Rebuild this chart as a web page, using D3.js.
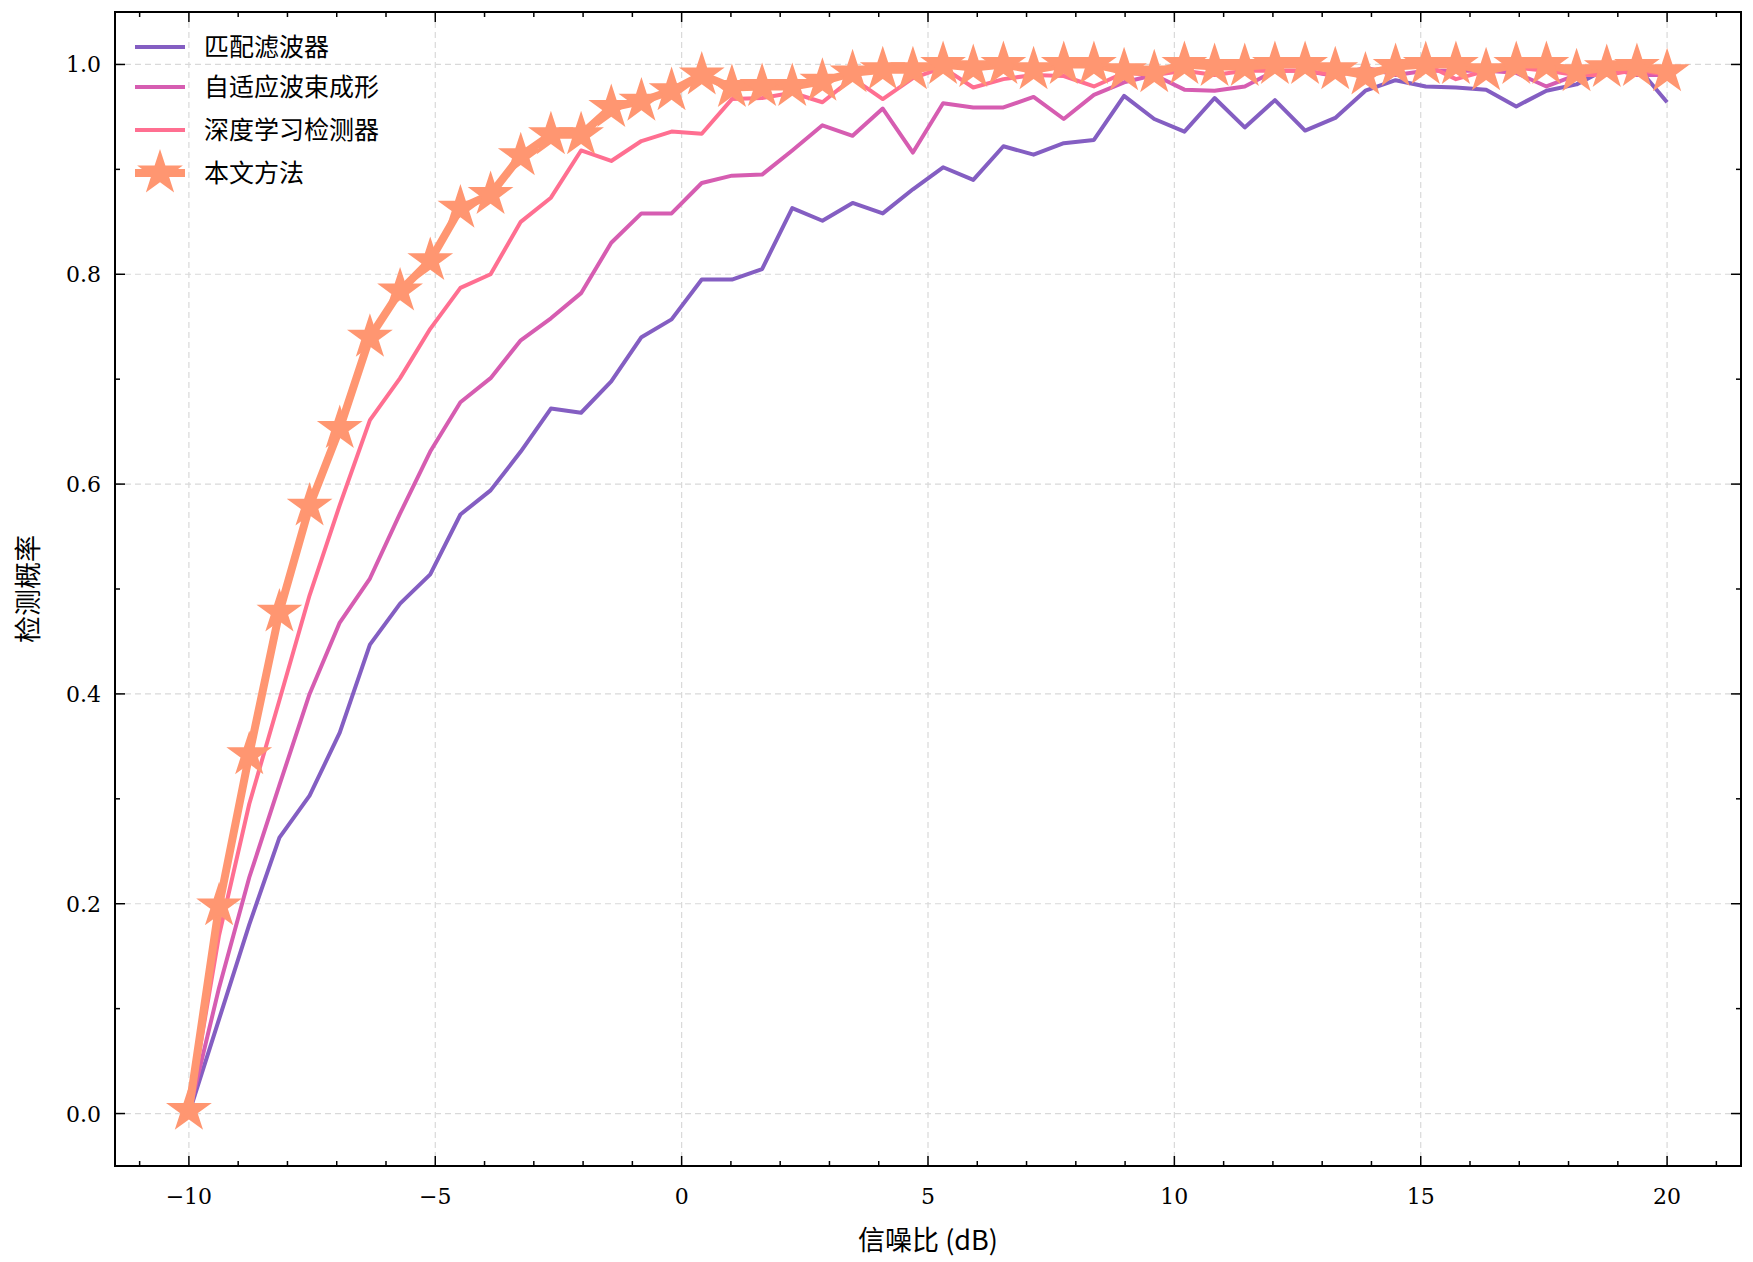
<!DOCTYPE html>
<html><head><meta charset="utf-8">
<script src="https://cdn.jsdelivr.net/npm/d3@7"></script>
<style>body{margin:0;background:#fff}</style></head>
<body><svg id="c" width="1753" height="1262"></svg>
<script>
const snr = d3.range(50).map(i => -10 + i * 30 / 49);
const seriesNames = ["匹配滤波器", "自适应波束成形", "深度学习检测器", "本文方法"];
const matched = [0,0.09,0.18,0.263,0.303,0.363,0.447,0.486,0.514,0.571,0.594,0.631,0.672,0.668,0.698,0.740,0.757,0.795,0.795,0.805,0.863,0.851,0.868,0.858,0.881,0.902,0.890,0.922,0.914,0.925,0.928,0.970,0.948,0.936,0.968,0.940,0.966,0.937,0.949,0.975,0.985,0.979,0.978,0.976,0.960,0.975,0.981,0.996,0.998,0.964];
const beam = [0,0.12,0.225,0.313,0.400,0.468,0.510,0.572,0.631,0.678,0.701,0.737,0.758,0.782,0.830,0.858,0.858,0.887,0.894,0.895,0.918,0.942,0.932,0.958,0.916,0.963,0.959,0.959,0.969,0.948,0.971,0.983,0.990,0.976,0.975,0.979,0.994,0.994,0.989,0.997,0.990,0.994,0.994,0.994,0.992,0.979,0.990,0.997,0.990,0.990];
const deep = [0,0.17,0.295,0.394,0.494,0.580,0.661,0.701,0.748,0.787,0.800,0.850,0.873,0.918,0.908,0.927,0.936,0.934,0.967,0.968,0.973,0.964,0.987,0.967,0.987,0.997,0.978,0.986,0.990,0.989,0.979,0.992,0.990,0.994,0.990,0.994,0.994,0.994,0.990,0.994,0.997,1.0,0.986,0.994,0.997,0.994,0.990,0.990,0.995,0.990];
const ours = [0.003,0.198,0.342,0.478,0.579,0.653,0.740,0.784,0.813,0.863,0.876,0.913,0.933,0.933,0.959,0.965,0.975,0.990,0.978,0.979,0.979,0.984,0.992,0.995,0.995,1.0,0.997,1.0,0.995,1.0,1.0,0.994,0.992,1.0,0.998,0.998,1.0,1.0,0.995,0.990,0.998,1.0,1.0,0.994,1.0,1.0,0.993,0.997,0.998,0.993];
const xTicks = [-10,-5,0,5,10,15,20];
const yTicks = [0,0.2,0.4,0.6,0.8,1.0];
const colors = ["#845EC2","#D65DB1","#FF6F91","#FF9671"];

const svg = d3.select("#c");
const L=115,R=1741,T=12,B=1166;
const x = d3.scaleLinear().domain([-11.5,21.5]).range([L,R]);
const y = d3.scaleLinear().domain([-0.05,1.05]).range([B,T]);
const serif = "'DejaVu Serif','Liberation Serif','Noto Sans CJK SC',serif";
const cjk = "'Noto Sans CJK SC',sans-serif";

const g = svg.append("g");
xTicks.forEach(t=>g.append("line").attr("x1",x(t)).attr("x2",x(t)).attr("y1",T).attr("y2",B).attr("stroke","#d9d9d9").attr("stroke-dasharray","6,4").attr("stroke-width",1.2));
yTicks.forEach(t=>g.append("line").attr("y1",y(t)).attr("y2",y(t)).attr("x1",L).attr("x2",R).attr("stroke","#d9d9d9").attr("stroke-dasharray","6,4").attr("stroke-width",1.2));

const line = d3.line().x((d,i)=>x(snr[i])).y(d=>y(d));
const data=[matched,beam,deep,ours];
svg.append("clipPath").attr("id","cl").append("rect").attr("x",L).attr("y",T).attr("width",R-L).attr("height",B-T);
const plot = svg.append("g").attr("clip-path","url(#cl)");
data.slice(0,3).forEach((s,k)=>plot.append("path").attr("d",line(s)).attr("fill","none").attr("stroke",colors[k]).attr("stroke-width",4).attr("stroke-linejoin","round"));
svg.append("path").attr("d",line(ours)).attr("fill","none").attr("stroke",colors[3]).attr("stroke-width",8).attr("stroke-linejoin","round");
const star = d3.symbol().type(d3.symbolStar).size(650);
svg.selectAll(".st").data(ours).enter().append("path").attr("d",star).attr("transform",(d,i)=>`translate(${x(snr[i])},${y(d)})`).attr("fill",colors[3]);

svg.append("rect").attr("x",L).attr("y",T).attr("width",R-L).attr("height",B-T).attr("fill","none").attr("stroke","#000").attr("stroke-width",2);
const ax = svg.append("g").attr("stroke","#000");
d3.range(-11,22,1).forEach(t=>{const maj=xTicks.includes(t);const len=maj?10:5;
  ax.append("line").attr("x1",x(t)).attr("x2",x(t)).attr("y1",B).attr("y2",B-len).attr("stroke-width",1.5);
  ax.append("line").attr("x1",x(t)).attr("x2",x(t)).attr("y1",T).attr("y2",T+len).attr("stroke-width",1.5);});
d3.range(0,11).map(i=>i/10).forEach(t=>{const maj=Math.round(t*10)%2===0;const len=maj?10:5;
  ax.append("line").attr("y1",y(t)).attr("y2",y(t)).attr("x1",L).attr("x2",L+len).attr("stroke-width",1.5);
  ax.append("line").attr("y1",y(t)).attr("y2",y(t)).attr("x1",R).attr("x2",R-len).attr("stroke-width",1.5);});
xTicks.forEach(t=>svg.append("text").attr("x",x(t)).attr("y",B+38).attr("text-anchor","middle").attr("font-family",serif).attr("font-size",22).text(t<0?"\u2212"+(-t):t));
yTicks.forEach(t=>svg.append("text").attr("x",L-14).attr("y",y(t)+8).attr("text-anchor","end").attr("font-family",serif).attr("font-size",22).text(t.toFixed(1)));
svg.append("text").attr("x",(L+R)/2).attr("y",1250).attr("text-anchor","middle").attr("font-family",cjk).attr("font-size",27).text("信噪比 (dB)");
svg.append("text").attr("transform",`translate(38,${(T+B)/2}) rotate(-90)`).attr("text-anchor","middle").attr("font-family",cjk).attr("font-size",27).text("检测概率");

seriesNames.forEach((n,k)=>{const yy=[47,87,130,173][k];
  svg.append("line").attr("x1",135).attr("x2",185).attr("y1",yy).attr("y2",yy).attr("stroke",colors[k]).attr("stroke-width",k===3?8:4);
  if(k===3) svg.append("path").attr("d",star).attr("transform",`translate(160,${yy})`).attr("fill",colors[3]);
  svg.append("text").attr("x",204).attr("y",yy+9).attr("font-family",cjk).attr("font-size",25).text(n);});
</script></body></html>
